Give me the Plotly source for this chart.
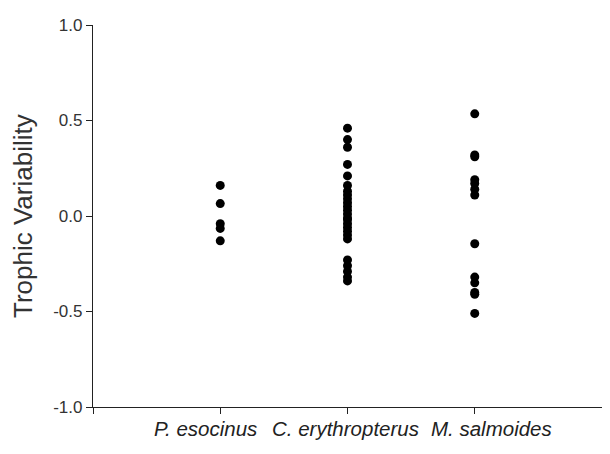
import plotly.graph_objects as go

# ---- data ----
categories = ["P. esocinus", "C. erythropterus", "M. salmoides"]
p_esocinus = [0.16, 0.065, -0.04, -0.065, -0.13]
c_erythropterus = [0.46, 0.40, 0.36, 0.27, 0.21, 0.16, 0.13, 0.11, 0.09, 0.07,
                   0.05, 0.03, 0.01, -0.01, -0.02, -0.04, -0.06, -0.08, -0.10,
                   -0.12, -0.23, -0.26, -0.29, -0.32, -0.34]
m_salmoides = [0.535, 0.32, 0.31, 0.19, 0.17, 0.14, 0.11, -0.145, -0.32,
               -0.35, -0.40, -0.41, -0.51]
series = [p_esocinus, c_erythropterus, m_salmoides]
y_ticks = [-1.0, -0.5, 0.0, 0.5, 1.0]
y_tick_labels = ["-1.0", "-0.5", "0.0", "0.5", "1.0"]
x_ticks = [0, 1, 2, 3, 4]

FONT = "Liberation Sans, Arial, sans-serif"
fig = go.Figure()
for i, vals in enumerate(series):
    fig.add_trace(go.Scatter(
        x=[i + 1] * len(vals), y=vals, mode="markers",
        marker=dict(symbol="circle", size=9, color="black"),
        showlegend=False, name=categories[i]))

fig.update_layout(
    width=602, height=446,
    margin=dict(l=85, r=8, t=11.5, b=46.5),
    paper_bgcolor="white", plot_bgcolor="white",
    font=dict(family=FONT, color="#222"),
    xaxis=dict(range=[0, 4], tickvals=x_ticks, showticklabels=False,
               ticks="outside", ticklen=6, tickcolor="#222", tickwidth=1.2,
               showline=True, linecolor="#222", linewidth=1.2,
               showgrid=False, zeroline=False),
    yaxis=dict(range=[-1, 1], tickvals=y_ticks, ticktext=y_tick_labels,
               ticks="outside", ticklen=6, tickcolor="#222", tickwidth=1.2,
               tickfont=dict(size=17, color="#333"),
               showline=True, linecolor="#222", linewidth=1.2,
               showgrid=False, zeroline=False),
)

fig.add_annotation(text="Trophic Variability", xref="paper", yref="paper",
                   x=-0.1375, y=0.5, xanchor="center", yanchor="middle",
                   textangle=-90, showarrow=False,
                   font=dict(size=26, color="#333"))

label_x = [0.222, 0.497, 0.783]
for name, lx in zip(categories, label_x):
    fig.add_annotation(text=f"<i>{name}</i>", xref="paper", yref="paper",
                       x=lx, y=-0.055, xanchor="center", yanchor="middle",
                       showarrow=False, font=dict(size=20.5, color="#222"))

fig.write_html("out.html")
